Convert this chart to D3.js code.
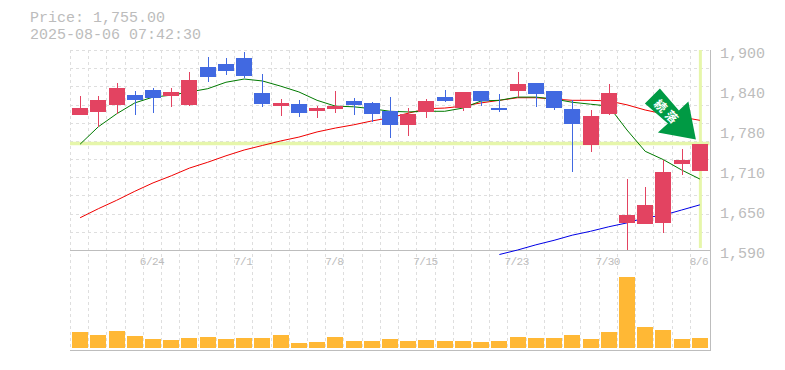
<!DOCTYPE html>
<html><head><meta charset="utf-8">
<script src="https://cdn.jsdelivr.net/npm/d3@7"></script>
<style>html,body{margin:0;padding:0;background:#fff}svg{display:block}text{font-family:"Liberation Mono",monospace}</style>
</head><body><div id="c"></div>
<script>
const priceLabel = "Price: 1,755.00";
const timeLabel = "2025-08-06 07:42:30";
const openP  = [1799,1804,1815,1830,1838,1829,1815,1874,1878,1888,1833,1813,1816,1805,1809,1821,1818,1805,1784,1804,1827,1810,1836,1810,1836,1849,1836,1809,1753,1801,1632,1630,1632,1723,1712];
const highP  = [1829,1829,1849,1836,1841,1841,1866,1889,1888,1897,1863,1824,1822,1813,1836,1826,1819,1827,1810,1824,1838,1835,1836,1832,1866,1849,1836,1822,1807,1847,1700,1688,1730,1747,1755];
const lowP   = [1799,1781,1801,1799,1802,1812,1813,1850,1861,1857,1812,1798,1796,1795,1802,1799,1788,1764,1767,1795,1819,1805,1813,1804,1827,1812,1807,1711,1742,1799,1590,1630,1616,1706,1712];
const closeP = [1810,1822,1841,1822,1826,1835,1854,1858,1867,1860,1816,1818,1802,1810,1813,1815,1801,1784,1801,1821,1821,1835,1821,1807,1847,1832,1810,1785,1798,1833,1644,1660,1711,1730,1755];
const ma25   = [1754,1781,1801,1818,1827,1830,1835,1840,1850,1855,1852,1844,1835,1822,1813,1812,1809,1805,1804,1805,1805,1810,1821,1822,1827,1827,1824,1819,1816,1813,1776,1743,1730,1714,1700];
const ma75   = [1640,1654,1667,1681,1694,1705,1717,1726,1736,1745,1752,1759,1765,1773,1779,1784,1790,1795,1802,1809,1810,1813,1818,1822,1826,1826,1824,1822,1822,1821,1815,1807,1801,1796,1791];
const ma200  = [null,null,null,null,null,null,null,null,null,null,null,null,null,null,null,null,null,null,null,null,null,null,null,1583,1590,1598,1605,1613,1619,1626,1632,1640,1644,1652,1660];
const volume = [16,13,17,12,9,8,10,11,9,10,10,13,5,6,11,7,7,9,7,8,7,7,6,7,11,10,10,13,9,16,71,21,18,9,10];
const dateTicks = [[4,"6/24"],[9,"7/1"],[14,"7/8"],[19,"7/15"],[24,"7/23"],[29,"7/30"],[34,"8/6"]];
const priceTicks = [1900,1840,1780,1710,1650,1590];
const currentPrice = 1755;
const arrowText = ["続","落"];

const W=785,H=370;
const pL=70,pR=709.5,pT=50,pB=250,volBase=348,volTop=277;
const svg=d3.select("#c").append("svg").attr("width",W).attr("height",H);
const idx=d3.range(openP.length);
const xb=d3.scaleBand().domain(idx).range([71,709]);
const x=i=>xb(i)+xb.bandwidth()/2;
const y=d3.scaleLinear().domain([1590,1900]).range([pB,pT]);
const yv=d3.scaleLinear().domain([0,71]).range([volBase,volTop]);
const grid="#dedede",axisC="#bdbdbd",txt="#bcbcbc";

// grid
const g=svg.append("g").attr("shape-rendering","crispEdges");
g.selectAll("line.v").data(d3.range(0,35)).join("line").attr("class","v")
 .attr("x1",i=>Math.round(xb(i))-.5).attr("x2",i=>Math.round(xb(i))-.5).attr("y1",pT).attr("y2",pB+100)
 .attr("stroke",grid).attr("stroke-dasharray","3,3");
g.selectAll("line.h").data(d3.range(0,11)).join("line").attr("class","h")
 .attr("x1",pL).attr("x2",pR).attr("y1",k=>Math.round(pT+k*(pB-pT)/11)+.5).attr("y2",k=>Math.round(pT+k*(pB-pT)/11)+.5)
 .attr("stroke",grid).attr("stroke-dasharray","3,3");

// current price highlights
const hl="#e6f6aa";
svg.append("line").attr("x1",pL).attr("x2",pR).attr("y1",y(currentPrice)).attr("y2",y(currentPrice)).attr("stroke",hl).attr("stroke-width",3.5);
svg.append("line").attr("x1",x(34)+.5).attr("x2",x(34)+.5).attr("y1",pT).attr("y2",pB-2).attr("stroke",hl).attr("stroke-width",3);

// axes frame
g.append("line").attr("x1",pL).attr("x2",pR+1).attr("y1",pB+.5).attr("y2",pB+.5).attr("stroke",axisC);
g.append("line").attr("x1",pL).attr("x2",pR+1).attr("y1",pB+100.5).attr("y2",pB+100.5).attr("stroke",axisC);
g.append("line").attr("x1",pR+.5).attr("x2",pR+.5).attr("y1",pT).attr("y2",pB+101).attr("stroke",axisC);

// MA lines
const lineGen=d=>d3.line().defined(i=>d[i]!=null).x(i=>x(i)).y(i=>y(d[i]))(idx);
svg.append("path").attr("d",lineGen(ma75)).attr("fill","none").attr("stroke","#f00000").attr("stroke-width",1);
svg.append("path").attr("d",lineGen(ma25)).attr("fill","none").attr("stroke","#007a00").attr("stroke-width",1);
svg.append("path").attr("d",lineGen(ma200)).attr("fill","none").attr("stroke","#0000e6").attr("stroke-width",1);

// candles
const up="#e34361",down="#4169e1";
const col=i=>closeP[i]>=openP[i]?up:down;
const c=svg.append("g").attr("shape-rendering","crispEdges");
c.selectAll("line").data(idx).join("line")
 .attr("x1",i=>Math.round(x(i))+.5).attr("x2",i=>Math.round(x(i))+.5)
 .attr("y1",i=>y(highP[i])).attr("y2",i=>y(lowP[i])).attr("stroke",col);
c.selectAll("rect").data(idx).join("rect")
 .attr("x",i=>Math.round(x(i))-8).attr("width",16)
 .attr("y",i=>y(Math.max(openP[i],closeP[i])))
 .attr("height",i=>Math.max(1,Math.abs(y(openP[i])-y(closeP[i]))))
 .attr("fill",col);

// volume
svg.append("g").attr("shape-rendering","crispEdges").selectAll("rect").data(idx).join("rect")
 .attr("x",i=>Math.round(x(i))-8).attr("width",16)
 .attr("y",i=>yv(volume[i])).attr("height",i=>volBase-yv(volume[i])).attr("fill","#ffb835");

// text
const head=svg.append("text").attr("font-size",15).attr("fill",txt);
head.append("tspan").attr("x",30).attr("y",22).text(priceLabel);
head.append("tspan").attr("x",30).attr("y",39).text(timeLabel);
svg.selectAll("text.p").data(priceTicks).join("text").attr("class","p")
 .attr("x",720).attr("y",(d,k)=>pT+k*40+8).attr("font-size",15).attr("fill",txt).text(d3.format(","));
svg.selectAll("text.d").data(dateTicks).join("text").attr("class","d")
 .attr("x",d=>x(d[0])-1).attr("y",265).attr("text-anchor","middle").attr("font-size",11).attr("letter-spacing","-0.5").attr("fill",txt).text(d=>d[1]);

// arrow annotation anchored on the latest candle
const ag=svg.append("g").attr("transform",`translate(${x(34)-4},${y(currentPrice)-4})`);
ag.append("path").attr("d",d3.line()([[-36,-51],[-51,-36],[-28,-16],[-38,-7],[0,0],[-7.5,-38],[-17,-29]])).attr("fill","#009a44");
arrowText.forEach((t,k)=>{
  ag.append("text").attr("transform",`translate(${-34.5+k*11},${-34.5+k*11}) rotate(45)`)
   .attr("text-anchor","middle").attr("dominant-baseline","central").attr("font-size",12).attr("font-weight","bold")
   .attr("fill","#fff").style("font-family",'"Noto Sans CJK JP"').text(t);
});
</script></body></html>
